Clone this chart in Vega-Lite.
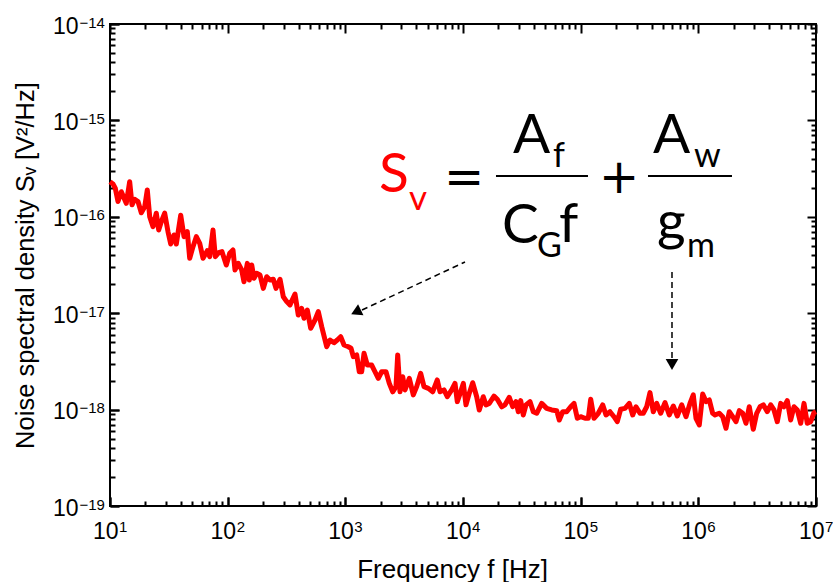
{
  "$schema": "https://vega.github.io/schema/vega-lite/v6.json",
  "width": 706,
  "height": 482,
  "autosize": "none",
  "padding": {"left": 110, "top": 24, "right": 17, "bottom": 76},
  "background": "white",
  "config": {
    "view": {"stroke": "black", "strokeWidth": 2},
    "axis": {
      "domain": false, "grid": false, "tickColor": "black", "tickWidth": 2,
      "labelFont": "Liberation Sans", "labelFontSize": 23, "labelColor": "black",
      "titleFont": "Liberation Sans", "titleFontSize": 26, "titleFontWeight": "normal", "titleColor": "black",
      "labelOverlap": false, "labelFlush": false, "labelBound": false
    }
  },
  "datasets": {
    "noise": [
      {"f": 10, "S": 2.31e-16}, {"f": 10.6, "S": 2.19e-16}, {"f": 11.09, "S": 1.98e-16}, {"f": 11.69, "S": 1.44e-16},
      {"f": 12.48, "S": 1.82e-16}, {"f": 13.15, "S": 1.57e-16}, {"f": 13.75, "S": 1.38e-16}, {"f": 14.7, "S": 2.31e-16},
      {"f": 15.38, "S": 1.33e-16}, {"f": 16.21, "S": 1.52e-16}, {"f": 17.29, "S": 1.44e-16}, {"f": 18.45, "S": 1.10e-16},
      {"f": 19.72, "S": 1.27e-16}, {"f": 20.75, "S": 1.90e-16}, {"f": 21.75, "S": 1.00e-16}, {"f": 23.2, "S": 7.9e-17},
      {"f": 24.74, "S": 1.09e-16}, {"f": 25.93, "S": 7.3e-17}, {"f": 27.29, "S": 8.9e-17}, {"f": 29.16, "S": 1.09e-16},
      {"f": 31.11, "S": 7.01e-17}, {"f": 32.81, "S": 5.22e-17}, {"f": 34.99, "S": 6.48e-17}, {"f": 36.6, "S": 5.22e-17},
      {"f": 39.9, "S": 1.04e-16}, {"f": 42.56, "S": 6.22e-17}, {"f": 45.39, "S": 7.01e-17}, {"f": 47.57, "S": 3.71e-17},
      {"f": 50.75, "S": 4.9e-17}, {"f": 54.14, "S": 6.22e-17}, {"f": 57.86, "S": 5.31e-17}, {"f": 61.72, "S": 3.71e-17},
      {"f": 67.14, "S": 4.45e-17}, {"f": 70.36, "S": 3.86e-17}, {"f": 75.05, "S": 7.3e-17}, {"f": 78.5, "S": 3.86e-17},
      {"f": 83.9, "S": 4.24e-17}, {"f": 89.47, "S": 4.35e-17}, {"f": 97.36, "S": 3.16e-17}, {"f": 104.1, "S": 4.18e-17},
      {"f": 111, "S": 4.53e-17}, {"f": 115.4, "S": 2.81e-17}, {"f": 123.1, "S": 3.29e-17}, {"f": 131.6, "S": 2.81e-17},
      {"f": 137.6, "S": 2.12e-17}, {"f": 146.9, "S": 3.29e-17}, {"f": 152.7, "S": 2.21e-17}, {"f": 160.1, "S": 3.16e-17},
      {"f": 167.4, "S": 2.3e-17}, {"f": 176.5, "S": 2.59e-17}, {"f": 188.3, "S": 2.49e-17}, {"f": 200.9, "S": 1.81e-17},
      {"f": 214.7, "S": 2.39e-17}, {"f": 229, "S": 2.21e-17}, {"f": 244.3, "S": 2.25e-17}, {"f": 257.5, "S": 1.81e-17},
      {"f": 278.5, "S": 2.25e-17}, {"f": 297.1, "S": 1.48e-17}, {"f": 317.5, "S": 1.32e-17}, {"f": 338.6, "S": 1.22e-17},
      {"f": 373.4, "S": 1.58e-17}, {"f": 398.4, "S": 9.58e-18}, {"f": 425.8, "S": 1.12e-17}, {"f": 445.4, "S": 8.86e-18},
      {"f": 475.1, "S": 1.08e-17}, {"f": 507.8, "S": 6.98e-18}, {"f": 552.3, "S": 8.5e-18}, {"f": 589.1, "S": 1.04e-17},
      {"f": 629.6, "S": 7.25e-18}, {"f": 694.4, "S": 4.49e-18}, {"f": 740.7, "S": 5.27e-18}, {"f": 801.2, "S": 4.94e-18},
      {"f": 854.6, "S": 5.27e-18}, {"f": 913.3, "S": 5.71e-18}, {"f": 974.7, "S": 4.68e-18}, {"f": 1060, "S": 4.49e-18},
      {"f": 1117, "S": 4.33e-18}, {"f": 1169, "S": 3.54e-18}, {"f": 1249, "S": 3.69e-18}, {"f": 1314, "S": 2.47e-18},
      {"f": 1377, "S": 2.47e-18}, {"f": 1441, "S": 3.84e-18}, {"f": 1537, "S": 2.9e-18}, {"f": 1675, "S": 2.9e-18},
      {"f": 1787, "S": 2.47e-18}, {"f": 1906, "S": 2.11e-18}, {"f": 2037, "S": 2.47e-18}, {"f": 2216, "S": 2.47e-18},
      {"f": 2364, "S": 1.87e-18}, {"f": 2527, "S": 1.53e-18}, {"f": 2695, "S": 1.73e-18}, {"f": 2786, "S": 3.69e-18},
      {"f": 2914, "S": 1.53e-18}, {"f": 3073, "S": 2.19e-18}, {"f": 3214, "S": 1.6e-18}, {"f": 3497, "S": 2.11e-18},
      {"f": 3781, "S": 1.42e-18}, {"f": 4041, "S": 1.73e-18}, {"f": 4370, "S": 2.38e-18}, {"f": 4661, "S": 1.73e-18},
      {"f": 5072, "S": 1.66e-18}, {"f": 5527, "S": 1.53e-18}, {"f": 6046, "S": 2.03e-18}, {"f": 6374, "S": 1.53e-18},
      {"f": 6895, "S": 1.6e-18}, {"f": 7354, "S": 1.36e-18}, {"f": 8015, "S": 1.6e-18}, {"f": 8551, "S": 1.87e-18},
      {"f": 8944, "S": 1.21e-18}, {"f": 9559, "S": 1.53e-18}, {"f": 10060, "S": 1.87e-18}, {"f": 10600, "S": 1.12e-18},
      {"f": 11310, "S": 1.48e-18}, {"f": 12090, "S": 1.9e-18}, {"f": 13070, "S": 1.36e-18}, {"f": 13750, "S": 9.91e-19},
      {"f": 14870, "S": 1.36e-18}, {"f": 15680, "S": 1.12e-18}, {"f": 16730, "S": 1.16e-18}, {"f": 18340, "S": 1.38e-18},
      {"f": 19560, "S": 1.28e-18}, {"f": 21330, "S": 1.07e-18}, {"f": 22750, "S": 1.12e-18}, {"f": 24740, "S": 1.34e-18},
      {"f": 26450, "S": 1.07e-18}, {"f": 28210, "S": 1.21e-18}, {"f": 29500, "S": 9.51e-19}, {"f": 30930, "S": 1.24e-18},
      {"f": 32540, "S": 8.8e-19}, {"f": 34310, "S": 1.12e-18}, {"f": 37090, "S": 1.21e-18}, {"f": 39570, "S": 9.51e-19},
      {"f": 42290, "S": 9.16e-19}, {"f": 46650, "S": 1.16e-18}, {"f": 51430, "S": 1.03e-18}, {"f": 56730, "S": 9.91e-19},
      {"f": 62550, "S": 9.75e-19}, {"f": 65820, "S": 7.8e-19}, {"f": 70370, "S": 9.51e-19}, {"f": 76080, "S": 9.51e-19},
      {"f": 82270, "S": 1.07e-18}, {"f": 87750, "S": 1.16e-18}, {"f": 93630, "S": 8.13e-19}, {"f": 100000, "S": 8.44e-19},
      {"f": 108800, "S": 8.13e-19}, {"f": 116100, "S": 8.13e-19}, {"f": 121700, "S": 1.28e-18}, {"f": 129800, "S": 8.13e-19},
      {"f": 141200, "S": 9.16e-19}, {"f": 153900, "S": 1.12e-18}, {"f": 164200, "S": 8.8e-19}, {"f": 177500, "S": 9.51e-19},
      {"f": 192000, "S": 8.44e-19}, {"f": 204800, "S": 7.49e-19}, {"f": 218900, "S": 1.01e-18}, {"f": 238100, "S": 1.03e-18},
      {"f": 259000, "S": 1.16e-18}, {"f": 276800, "S": 8.8e-19}, {"f": 295300, "S": 1.07e-18}, {"f": 319300, "S": 9.16e-19},
      {"f": 340600, "S": 9.16e-19}, {"f": 364000, "S": 1.07e-18}, {"f": 388300, "S": 1.5e-18}, {"f": 414200, "S": 9.51e-19},
      {"f": 442700, "S": 1.16e-18}, {"f": 478700, "S": 9.16e-19}, {"f": 520800, "S": 1.18e-18}, {"f": 566500, "S": 8.8e-19},
      {"f": 612600, "S": 1.09e-18}, {"f": 662500, "S": 8.59e-19}, {"f": 722200, "S": 1.12e-18}, {"f": 785500, "S": 8.44e-19},
      {"f": 849300, "S": 1.16e-18}, {"f": 906000, "S": 1.42e-18}, {"f": 955100, "S": 8.13e-19}, {"f": 1019000, "S": 6.93e-19},
      {"f": 1089000, "S": 1.45e-18}, {"f": 1162000, "S": 1.21e-18}, {"f": 1239000, "S": 1.26e-18}, {"f": 1324000, "S": 9.16e-19},
      {"f": 1385000, "S": 8.8e-19}, {"f": 1507000, "S": 9.16e-19}, {"f": 1611000, "S": 8.44e-19}, {"f": 1718000, "S": 6.4e-19},
      {"f": 1833000, "S": 9.51e-19}, {"f": 1959000, "S": 8.44e-19}, {"f": 2089000, "S": 7.49e-19}, {"f": 2229000, "S": 9.75e-19},
      {"f": 2382000, "S": 9.16e-19}, {"f": 2541000, "S": 7.21e-19}, {"f": 2710000, "S": 1.07e-18}, {"f": 2931000, "S": 6.25e-19},
      {"f": 3133000, "S": 9.16e-19}, {"f": 3342000, "S": 1.07e-18}, {"f": 3565000, "S": 1.12e-18}, {"f": 3855000, "S": 9.51e-19},
      {"f": 4121000, "S": 1.12e-18}, {"f": 4396000, "S": 9.91e-19}, {"f": 4689000, "S": 7.49e-19}, {"f": 5011000, "S": 1.16e-18},
      {"f": 5345000, "S": 1.07e-18}, {"f": 5702000, "S": 1.24e-18}, {"f": 6094000, "S": 7.8e-19}, {"f": 6501000, "S": 1.07e-18},
      {"f": 6935000, "S": 9.91e-19}, {"f": 7412000, "S": 7.21e-19}, {"f": 7906000, "S": 1.16e-18}, {"f": 8434000, "S": 7.21e-19},
      {"f": 9013000, "S": 7.49e-19}, {"f": 9614000, "S": 9.29e-19}, {"f": 10000000, "S": 9.51e-19}
    ],
    "bars": [
      {"f": 19070, "f2": 115400, "S": 2.65e-16},
      {"f": 373400, "f2": 1932000, "S": 2.65e-16}
    ],
    "arrows": [
      {"arrow": "a", "f": 10400, "S": 3.397e-17},
      {"arrow": "a", "f": 1385, "S": 1.079e-17},
      {"arrow": "b", "f": 597300, "S": 2.676e-17},
      {"arrow": "b", "f": 597300, "S": 3.43e-18}
    ],
    "head1": [{"f": 1232, "S": 1.029e-17}],
    "head2": [{"f": 597300, "S": 2.936e-18}],
    "eqRedBig": [{"t": "S", "f": 1932, "S": 1.808e-16}],
    "eqRedSub": [{"t": "v", "f": 3475, "S": 1.176e-16}],
    "eqOps": [
      {"t": "=", "f": 6893, "S": 1.78e-16},
      {"t": "+", "f": 143000, "S": 1.78e-16}
    ],
    "eqBig": [
      {"t": "A", "f": 26600, "S": 4.589e-16},
      {"t": "C", "f": 21450, "S": 5.348e-17},
      {"t": "f", "f": 65500, "S": 5.478e-17},
      {"t": "A", "f": 411800, "S": 4.589e-16},
      {"t": "g", "f": 445200, "S": 5.745e-17}
    ],
    "eqSub": [
      {"t": "f", "f": 58190, "S": 3.286e-16},
      {"t": "G", "f": 42540, "S": 3.828e-17},
      {"t": "w", "f": 918300, "S": 3.286e-16},
      {"t": "m", "f": 800700, "S": 3.828e-17}
    ]
  },
  "resolve": {"axis": {"x": "independent", "y": "independent"}},
  "layer": [
    {
      "data": {"name": "noise"},
      "mark": {"type": "line", "color": "#ff0000", "strokeWidth": 5, "strokeJoin": "round"},
      "encoding": {
        "x": {"field": "f", "type": "quantitative", "scale": {"type": "log", "domain": [10, 10000000], "nice": false},
          "axis": {"orient": "bottom", "values": [10, 100, 1000, 10000, 100000, 1000000, 10000000], "tickSize": -9,
            "labelExpr": "'10'", "labelAlign": "right", "labelBaseline": "alphabetic", "labelOffset": 8, "labelPadding": 41,
            "title": "Frequency f [Hz]", "titleX": 342, "titleY": 71, "titleBaseline": "alphabetic", "titleAlign": "center"}},
        "y": {"field": "S", "type": "quantitative", "scale": {"type": "log", "domain": [1e-19, 1e-14], "nice": false},
          "axis": {"orient": "left", "values": [1e-19, 1e-18, 1e-17, 1e-16, 1e-15, 1e-14], "tickSize": -9,
            "labelExpr": "'10'", "labelAlign": "right", "labelBaseline": "alphabetic", "labelOffset": 9, "labelPadding": 41,
            "title": "Noise spectral density Sᵥ [V²/Hz]", "titleFontSize": 25.5, "titleX": -77, "titleY": 241, "titleAngle": 270, "titleBaseline": "alphabetic", "titleAlign": "center"}}
      }
    },
    {
      "data": {"name": "noise"},
      "mark": {"type": "line", "strokeOpacity": 0},
      "encoding": {
        "x": {"field": "f", "type": "quantitative",
          "axis": {"orient": "bottom", "values": [10, 100, 1000, 10000, 100000, 1000000, 10000000], "tickSize": -9,
            "labelExpr": "'' + round(log(datum.value)/LN10)", "labelFontSize": 15, "labelAlign": "left", "labelBaseline": "alphabetic", "labelOffset": 8.5, "labelPadding": 34.5,
            "title": null}},
        "y": {"field": "S", "type": "quantitative",
          "axis": {"orient": "left", "values": [1e-19, 1e-18, 1e-17, 1e-16, 1e-15, 1e-14], "tickSize": -9,
            "labelExpr": "'−' + (-round(log(datum.value)/LN10))", "labelFontSize": 15, "labelAlign": "left", "labelBaseline": "alphabetic", "labelOffset": 3, "labelPadding": 40,
            "title": null}}
      }
    },
    {
      "data": {"name": "noise"},
      "mark": {"type": "line", "strokeOpacity": 0},
      "encoding": {
        "x": {"field": "f", "type": "quantitative",
          "axis": {"orient": "bottom", "values": [20,30,40,50,60,70,80,90,200,300,400,500,600,700,800,900,2000,3000,4000,5000,6000,7000,8000,9000,20000,30000,40000,50000,60000,70000,80000,90000,200000,300000,400000,500000,600000,700000,800000,900000,2000000,3000000,4000000,5000000,6000000,7000000,8000000,9000000], "tickSize": -5, "labels": false, "title": null}},
        "y": {"field": "S", "type": "quantitative",
          "axis": {"orient": "left", "values": [2e-19,3e-19,4e-19,5e-19,6e-19,7e-19,8e-19,9e-19,2e-18,3e-18,4e-18,5e-18,6e-18,7e-18,8e-18,9e-18,2e-17,3e-17,4e-17,5e-17,6e-17,7e-17,8e-17,9e-17,2e-16,3e-16,4e-16,5e-16,6e-16,7e-16,8e-16,9e-16,2e-15,3e-15,4e-15,5e-15,6e-15,7e-15,8e-15,9e-15], "tickSize": -5, "labels": false, "title": null}}
      }
    },
    {
      "data": {"name": "noise"},
      "mark": {"type": "line", "strokeOpacity": 0},
      "encoding": {
        "x": {"field": "f", "type": "quantitative",
          "axis": {"orient": "top", "values": [10, 100, 1000, 10000, 100000, 1000000, 10000000], "tickSize": -9, "labels": false, "title": null}},
        "y": {"field": "S", "type": "quantitative",
          "axis": {"orient": "right", "values": [1e-19, 1e-18, 1e-17, 1e-16, 1e-15, 1e-14], "tickSize": -9, "labels": false, "title": null}}
      }
    },
    {
      "data": {"name": "noise"},
      "mark": {"type": "line", "strokeOpacity": 0},
      "encoding": {
        "x": {"field": "f", "type": "quantitative",
          "axis": {"orient": "top", "values": [20,30,40,50,60,70,80,90,200,300,400,500,600,700,800,900,2000,3000,4000,5000,6000,7000,8000,9000,20000,30000,40000,50000,60000,70000,80000,90000,200000,300000,400000,500000,600000,700000,800000,900000,2000000,3000000,4000000,5000000,6000000,7000000,8000000,9000000], "tickSize": -5, "labels": false, "title": null}},
        "y": {"field": "S", "type": "quantitative",
          "axis": {"orient": "right", "values": [2e-19,3e-19,4e-19,5e-19,6e-19,7e-19,8e-19,9e-19,2e-18,3e-18,4e-18,5e-18,6e-18,7e-18,8e-18,9e-18,2e-17,3e-17,4e-17,5e-17,6e-17,7e-17,8e-17,9e-17,2e-16,3e-16,4e-16,5e-16,6e-16,7e-16,8e-16,9e-16,2e-15,3e-15,4e-15,5e-15,6e-15,7e-15,8e-15,9e-15], "tickSize": -5, "labels": false, "title": null}}
      }
    },
    {
      "data": {"name": "bars"},
      "mark": {"type": "rule", "color": "black", "strokeWidth": 2},
      "encoding": {
        "x": {"field": "f", "type": "quantitative", "axis": null},
        "x2": {"field": "f2"},
        "y": {"field": "S", "type": "quantitative", "axis": null}
      }
    },
    {
      "data": {"name": "arrows"},
      "mark": {"type": "line", "color": "black", "strokeWidth": 1.5, "strokeDash": [6, 4]},
      "encoding": {
        "x": {"field": "f", "type": "quantitative", "axis": null},
        "y": {"field": "S", "type": "quantitative", "axis": null},
        "detail": {"field": "arrow", "type": "nominal"}
      }
    },
    {
      "data": {"name": "head1"},
      "mark": {"type": "point", "shape": "triangle-up", "filled": true, "color": "black", "opacity": 1, "size": 150, "angle": 244},
      "encoding": {
        "x": {"field": "f", "type": "quantitative", "axis": null},
        "y": {"field": "S", "type": "quantitative", "axis": null}
      }
    },
    {
      "data": {"name": "head2"},
      "mark": {"type": "point", "shape": "triangle-down", "filled": true, "color": "black", "opacity": 1, "size": 160},
      "encoding": {
        "x": {"field": "f", "type": "quantitative", "axis": null},
        "y": {"field": "S", "type": "quantitative", "axis": null}
      }
    },
    {
      "data": {"name": "eqRedBig"},
      "mark": {"type": "text", "color": "#ff0000", "font": "Lato", "fontSize": 55, "align": "left", "baseline": "alphabetic"},
      "encoding": {
        "x": {"field": "f", "type": "quantitative", "axis": null},
        "y": {"field": "S", "type": "quantitative", "axis": null},
        "text": {"field": "t"}
      }
    },
    {
      "data": {"name": "eqRedSub"},
      "mark": {"type": "text", "color": "#ff0000", "font": "Lato", "fontSize": 35, "align": "left", "baseline": "alphabetic"},
      "encoding": {
        "x": {"field": "f", "type": "quantitative", "axis": null},
        "y": {"field": "S", "type": "quantitative", "axis": null},
        "text": {"field": "t"}
      }
    },
    {
      "data": {"name": "eqOps"},
      "mark": {"type": "text", "color": "black", "font": "DejaVu Sans", "fontSize": 48, "align": "left", "baseline": "alphabetic"},
      "encoding": {
        "x": {"field": "f", "type": "quantitative", "axis": null},
        "y": {"field": "S", "type": "quantitative", "axis": null},
        "text": {"field": "t"}
      }
    },
    {
      "data": {"name": "eqBig"},
      "mark": {"type": "text", "color": "black", "font": "Lato", "fontSize": 55, "align": "left", "baseline": "alphabetic"},
      "encoding": {
        "x": {"field": "f", "type": "quantitative", "axis": null},
        "y": {"field": "S", "type": "quantitative", "axis": null},
        "text": {"field": "t"}
      }
    },
    {
      "data": {"name": "eqSub"},
      "mark": {"type": "text", "color": "black", "font": "Lato", "fontSize": 34, "align": "left", "baseline": "alphabetic"},
      "encoding": {
        "x": {"field": "f", "type": "quantitative", "axis": null},
        "y": {"field": "S", "type": "quantitative", "axis": null},
        "text": {"field": "t"}
      }
    }
  ]
}
